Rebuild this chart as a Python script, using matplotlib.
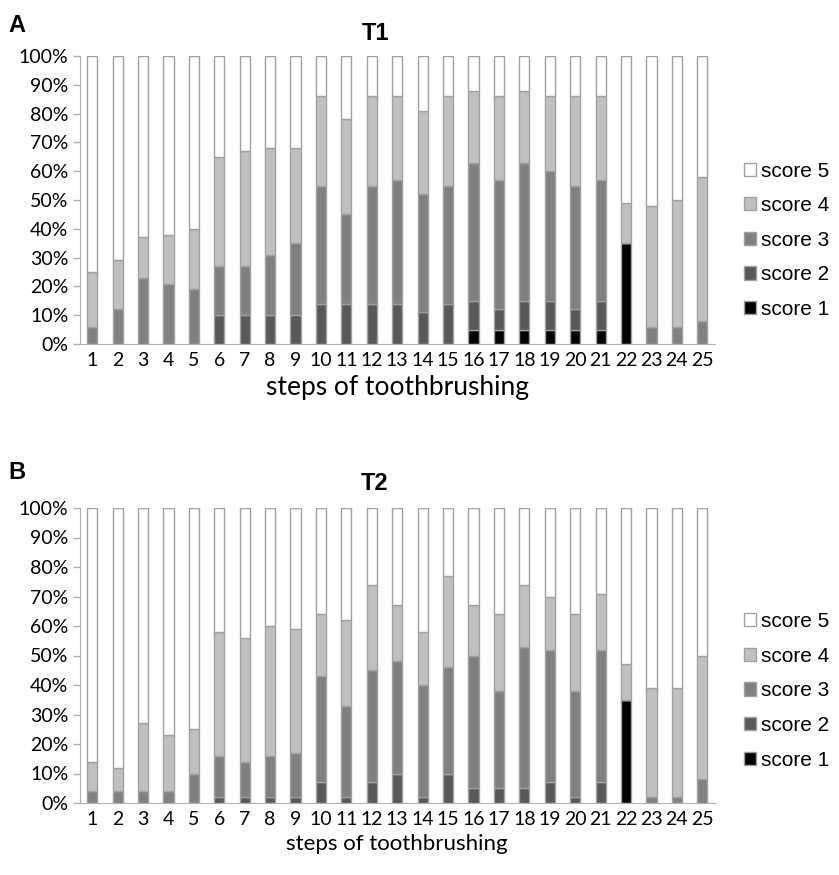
import numpy as np
import matplotlib.pyplot as plt
from matplotlib.ticker import PercentFormatter

plt.rcParams['font.family'] = ['Lato', 'DejaVu Sans']

steps = [str(i) for i in range(1, 26)]
score_names = ['score 1', 'score 2', 'score 3', 'score 4', 'score 5']
score_colors = ['#000000', '#595959', '#808080', '#c0c0c0', '#ffffff']

# T1 - percentage of each score per step
t1_score1 = [0, 0, 0, 0, 0, 0, 0, 0, 0, 0, 0, 0, 0, 0, 0, 5, 5, 5, 5, 5, 5, 35, 0, 0, 0]
t1_score2 = [0, 0, 0, 0, 0, 10, 10, 10, 10, 14, 14, 14, 14, 11, 14, 10, 7, 10, 10, 7, 10, 0, 0, 0, 0]
t1_score3 = [6, 12, 23, 21, 19, 17, 17, 21, 25, 41, 31, 41, 43, 41, 41, 48, 45, 48, 45, 43, 42, 0, 6, 6, 8]
t1_score4 = [19, 17, 14, 17, 21, 38, 40, 37, 33, 31, 33, 31, 29, 29, 31, 25, 29, 25, 26, 31, 29, 14, 42, 44, 50]
t1_score5 = [75, 71, 63, 62, 60, 35, 33, 32, 32, 14, 22, 14, 14, 19, 14, 12, 14, 12, 14, 14, 14, 51, 52, 50, 42]

# T2
t2_score1 = [0, 0, 0, 0, 0, 0, 0, 0, 0, 0, 0, 0, 0, 0, 0, 0, 0, 0, 0, 0, 0, 35, 0, 0, 0]
t2_score2 = [0, 0, 0, 0, 0, 2, 2, 2, 2, 7, 2, 7, 10, 2, 10, 5, 5, 5, 7, 2, 7, 0, 0, 0, 0]
t2_score3 = [4, 4, 4, 4, 10, 14, 12, 14, 15, 36, 31, 38, 38, 38, 36, 45, 33, 48, 45, 36, 45, 0, 2, 2, 8]
t2_score4 = [10, 8, 23, 19, 15, 42, 42, 44, 42, 21, 29, 29, 19, 18, 31, 17, 26, 21, 18, 26, 19, 12, 37, 37, 42]
t2_score5 = [86, 88, 73, 77, 75, 42, 44, 40, 41, 36, 38, 26, 33, 42, 23, 33, 36, 26, 30, 36, 29, 53, 61, 61, 50]

W, H = 839, 875
fig = plt.figure(figsize=(W / 100, H / 100), dpi=100)


def draw_panel(rect, series, title, letter, title_y, letter_y, xlabel_size, leg_y):
    ax = fig.add_axes(rect)
    x = np.arange(len(steps))
    bottom = np.zeros(len(steps))
    handles = []
    for vals, name, col in zip(series, score_names, score_colors):
        vals = np.array(vals, dtype=float)
        b = ax.bar(x, vals, 0.4, bottom=bottom, color=col, edgecolor='#a0a0a0',
                   linewidth=1, label=name)
        handles.append(b)
        bottom += vals
    ax.set_xlim(-0.5, len(steps) - 0.5)
    ax.set_ylim(0, 100)
    ax.set_yticks(np.arange(0, 101, 10))
    ax.yaxis.set_major_formatter(PercentFormatter(decimals=0))
    ax.set_xticks(x)
    ax.set_xticklabels(steps)
    ax.tick_params(axis='y', length=5, width=1, color='#b0b0b0', labelsize=14, pad=3)
    ax.tick_params(axis='x', length=0, labelsize=14, pad=6)
    for s in ['top', 'right']:
        ax.spines[s].set_visible(False)
    ax.spines['left'].set_color('#b0b0b0')
    ax.spines['bottom'].set_color('#b0b0b0')
    ax.set_xlabel('steps of toothbrushing', fontsize=xlabel_size, labelpad=4)
    ax.legend(handles[::-1], score_names[::-1], loc='center left',
              bbox_to_anchor=(1.045, leg_y), frameon=False,
              prop={'family': 'Liberation Sans', 'size': 15},
              handlelength=0.6, handleheight=0.6, handletextpad=0.25,
              labelspacing=0.75, borderaxespad=0, borderpad=0)
    fig.text(375 / W, 1 - title_y / H, title, ha='center', va='center',
             fontsize=17, fontweight='bold', family='Liberation Sans')
    fig.text(8 / W, 1 - letter_y / H, letter, ha='left', va='center',
             fontsize=17, fontweight='bold', family='Liberation Sans')
    return ax


draw_panel([79.5 / W, 1 - 344 / H, 635.5 / W, 288 / H],
           [t1_score1, t1_score2, t1_score3, t1_score4, t1_score5],
           'T1', 'A', 33, 25, 19, 0.36)
draw_panel([79.5 / W, 1 - 803 / H, 635.5 / W, 295 / H],
           [t2_score1, t2_score2, t2_score3, t2_score4, t2_score5],
           'T2', 'B', 484, 472, 16, 0.38)

fig.savefig('out.png', dpi=100)
